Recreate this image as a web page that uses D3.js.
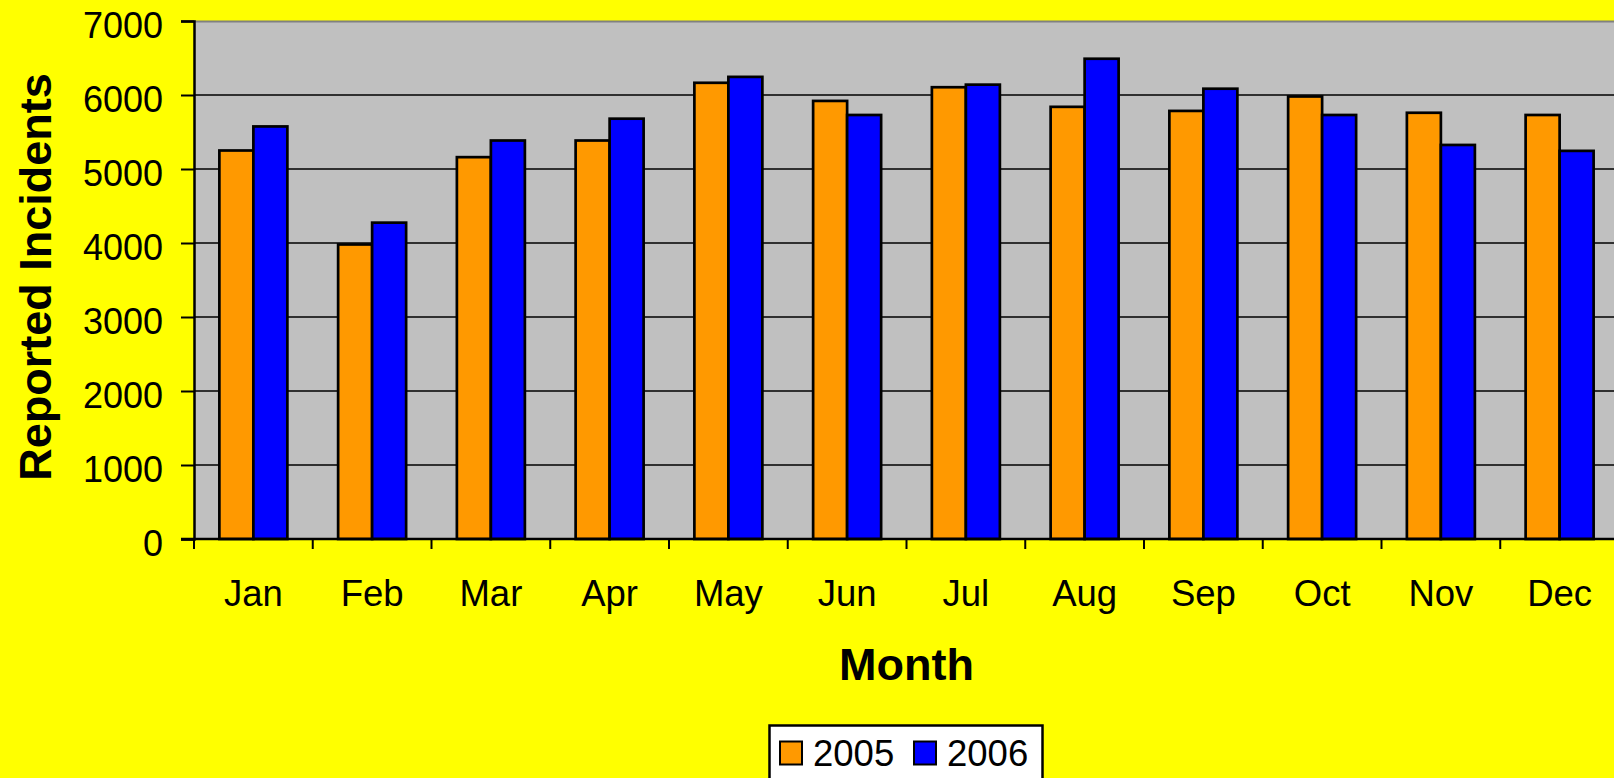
<!DOCTYPE html>
<html>
<head>
<meta charset="utf-8">
<script src="https://cdn.jsdelivr.net/npm/d3@7"></script>
<style>
  html, body { margin: 0; padding: 0; background: #ffff00; overflow: hidden; }
  text { font-family: "Liberation Sans", Arial, sans-serif; fill: #000; }
</style>
</head>
<body>
<div id="chart"></div>
<script>
// data
var months = ["Jan", "Feb", "Mar", "Apr", "May", "Jun", "Jul", "Aug", "Sep", "Oct", "Nov", "Dec"];
var years = ["2005", "2006"];
var incidents2005 = [5250, 3980, 5160, 5385, 6165, 5920, 6105, 5840, 5785, 5980, 5760, 5730];
var incidents2006 = [5575, 4275, 5385, 5680, 6245, 5730, 6140, 6490, 6085, 5730, 5325, 5245];
var yTicks = [0, 1000, 2000, 3000, 4000, 5000, 6000, 7000];
var colors = ["#ff9900", "#0000ff"];

var width = 1614, height = 778;
var plotLeft = 194, plotTop = 21, plotW = 1425, plotH = 518;

var svg = d3.select("#chart").append("svg")
  .attr("width", width).attr("height", height);

svg.append("rect").attr("width", width).attr("height", height).attr("fill", "#ffff00");

var x0 = d3.scaleBand().domain(months).range([plotLeft, plotLeft + plotW]).padding(0);
var groupW = 68;
var x1 = d3.scaleBand().domain(years)
  .range([(x0.bandwidth() - groupW) / 2, (x0.bandwidth() + groupW) / 2]);
var y = d3.scaleLinear().domain([0, 7000]).range([plotTop + plotH, plotTop]);

// plot area
svg.append("rect")
  .attr("x", plotLeft).attr("y", plotTop).attr("width", plotW).attr("height", plotH)
  .attr("fill", "#c0c0c0");
svg.append("line")
  .attr("x1", plotLeft).attr("x2", plotLeft + plotW).attr("y1", plotTop + 0.5).attr("y2", plotTop + 0.5)
  .attr("stroke", "#808080").attr("stroke-width", 2);

// gridlines
svg.selectAll(".grid").data(yTicks.filter(function(d) { return d > 0 && d < 7000; }))
  .enter().append("line")
  .attr("class", "grid")
  .attr("x1", plotLeft).attr("x2", plotLeft + plotW)
  .attr("y1", function(d) { return y(d); }).attr("y2", function(d) { return y(d); })
  .attr("stroke", "#000").attr("stroke-width", 1.3);

// bars
var rows = months.map(function(m, i) {
  return { month: m, values: [incidents2005[i], incidents2006[i]] };
});
var groups = svg.selectAll(".grp").data(rows).enter().append("g")
  .attr("class", "grp")
  .attr("transform", function(d) { return "translate(" + x0(d.month) + ",0)"; });
groups.selectAll("rect").data(function(d) {
  return d.values.map(function(v, k) { return { year: years[k], value: v, k: k }; });
}).enter().append("rect")
  .attr("x", function(d) { return x1(d.year); })
  .attr("width", x1.bandwidth())
  .attr("y", function(d) { return y(d.value); })
  .attr("height", function(d) { return y(0) - y(d.value); })
  .attr("fill", function(d) { return colors[d.k]; })
  .attr("stroke", "#000").attr("stroke-width", 2.7);

// y axis
var yAxis = svg.append("g")
  .attr("transform", "translate(" + plotLeft + ",0)")
  .call(d3.axisLeft(y).tickValues(yTicks).tickSize(13).tickPadding(18).tickFormat(d3.format("d")));
yAxis.select(".domain").attr("stroke", "#000").attr("stroke-width", 2.5);
yAxis.selectAll(".tick line").attr("stroke", "#000").attr("stroke-width", 2);
yAxis.selectAll("text")
  .style("font-size", "36px").attr("dy", "0.45em").attr("fill", "#000");

// x axis line with ticks at category boundaries
svg.append("line")
  .attr("x1", plotLeft - 13).attr("x2", plotLeft + plotW)
  .attr("y1", y(0)).attr("y2", y(0))
  .attr("stroke", "#000").attr("stroke-width", 2.5);
var bounds = months.map(function(m) { return x0(m); }).concat([plotLeft + plotW]);
svg.selectAll(".xtick").data(bounds).enter().append("line")
  .attr("class", "xtick")
  .attr("x1", function(d) { return d; }).attr("x2", function(d) { return d; })
  .attr("y1", y(0)).attr("y2", y(0) + 10)
  .attr("stroke", "#000").attr("stroke-width", 2);

var xAxis = svg.append("g")
  .attr("transform", "translate(0," + y(0) + ")")
  .call(d3.axisBottom(x0).tickSize(0).tickPadding(0));
xAxis.select(".domain").remove();
xAxis.selectAll("text")
  .style("font-size", "36.5px").attr("y", 67).attr("dy", 0).attr("fill", "#000");

// axis titles
svg.append("text")
  .attr("x", plotLeft + plotW / 2).attr("y", 680)
  .attr("text-anchor", "middle")
  .style("font-size", "45px").style("font-weight", "bold")
  .text("Month");
svg.append("text")
  .attr("transform", "translate(51," + (plotTop + plotH / 2 - 3) + ") rotate(-90)")
  .attr("text-anchor", "middle")
  .style("font-size", "45px").style("font-weight", "bold")
  .text("Reported Incidents");

// legend
var legend = svg.append("g");
legend.append("rect")
  .attr("x", 769.5).attr("y", 725.5).attr("width", 273).attr("height", 70)
  .attr("fill", "#fff").attr("stroke", "#000").attr("stroke-width", 2.5);
var legX = [780, 914];
var items = legend.selectAll(".item").data(years).enter().append("g")
  .attr("class", "item")
  .attr("transform", function(d, i) { return "translate(" + legX[i] + ",0)"; });
items.append("rect")
  .attr("x", 0).attr("y", 741.5).attr("width", 22).attr("height", 23)
  .attr("fill", function(d, i) { return colors[i]; })
  .attr("stroke", "#000").attr("stroke-width", 2);
items.append("text")
  .attr("x", 33).attr("y", 766)
  .style("font-size", "36.5px")
  .text(function(d) { return d; });
</script>
</body>
</html>
